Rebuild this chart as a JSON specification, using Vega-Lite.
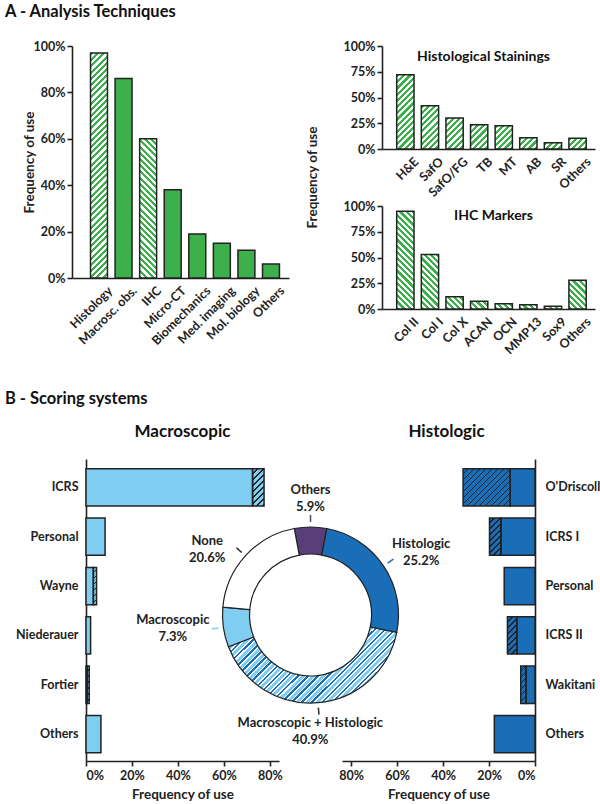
{
  "$schema": "https://vega.github.io/schema/vega-lite/v6.json",
  "padding": {"left": 5, "top": 3, "right": 5, "bottom": 5},
  "background": "white",
  "params": [
    {"name": "greenStops", "value": [
      {"offset": 0, "color": "#3cb04a"}, {"offset": 0.0125, "color": "#3cb04a"}, {"offset": 0.0125, "color": "#ffffff"}, {"offset": 0.025, "color": "#ffffff"},
      {"offset": 0.025, "color": "#3cb04a"}, {"offset": 0.0375, "color": "#3cb04a"}, {"offset": 0.0375, "color": "#ffffff"}, {"offset": 0.05, "color": "#ffffff"},
      {"offset": 0.05, "color": "#3cb04a"}, {"offset": 0.0625, "color": "#3cb04a"}, {"offset": 0.0625, "color": "#ffffff"}, {"offset": 0.075, "color": "#ffffff"},
      {"offset": 0.075, "color": "#3cb04a"}, {"offset": 0.0875, "color": "#3cb04a"}, {"offset": 0.0875, "color": "#ffffff"}, {"offset": 0.1, "color": "#ffffff"},
      {"offset": 0.1, "color": "#3cb04a"}, {"offset": 0.1125, "color": "#3cb04a"}, {"offset": 0.1125, "color": "#ffffff"}, {"offset": 0.125, "color": "#ffffff"},
      {"offset": 0.125, "color": "#3cb04a"}, {"offset": 0.1375, "color": "#3cb04a"}, {"offset": 0.1375, "color": "#ffffff"}, {"offset": 0.15, "color": "#ffffff"},
      {"offset": 0.15, "color": "#3cb04a"}, {"offset": 0.1625, "color": "#3cb04a"}, {"offset": 0.1625, "color": "#ffffff"}, {"offset": 0.175, "color": "#ffffff"},
      {"offset": 0.175, "color": "#3cb04a"}, {"offset": 0.1875, "color": "#3cb04a"}, {"offset": 0.1875, "color": "#ffffff"}, {"offset": 0.2, "color": "#ffffff"},
      {"offset": 0.2, "color": "#3cb04a"}, {"offset": 0.2125, "color": "#3cb04a"}, {"offset": 0.2125, "color": "#ffffff"}, {"offset": 0.225, "color": "#ffffff"},
      {"offset": 0.225, "color": "#3cb04a"}, {"offset": 0.2375, "color": "#3cb04a"}, {"offset": 0.2375, "color": "#ffffff"}, {"offset": 0.25, "color": "#ffffff"},
      {"offset": 0.25, "color": "#3cb04a"}, {"offset": 0.2625, "color": "#3cb04a"}, {"offset": 0.2625, "color": "#ffffff"}, {"offset": 0.275, "color": "#ffffff"},
      {"offset": 0.275, "color": "#3cb04a"}, {"offset": 0.2875, "color": "#3cb04a"}, {"offset": 0.2875, "color": "#ffffff"}, {"offset": 0.3, "color": "#ffffff"},
      {"offset": 0.3, "color": "#3cb04a"}, {"offset": 0.3125, "color": "#3cb04a"}, {"offset": 0.3125, "color": "#ffffff"}, {"offset": 0.325, "color": "#ffffff"},
      {"offset": 0.325, "color": "#3cb04a"}, {"offset": 0.3375, "color": "#3cb04a"}, {"offset": 0.3375, "color": "#ffffff"}, {"offset": 0.35, "color": "#ffffff"},
      {"offset": 0.35, "color": "#3cb04a"}, {"offset": 0.3625, "color": "#3cb04a"}, {"offset": 0.3625, "color": "#ffffff"}, {"offset": 0.375, "color": "#ffffff"},
      {"offset": 0.375, "color": "#3cb04a"}, {"offset": 0.3875, "color": "#3cb04a"}, {"offset": 0.3875, "color": "#ffffff"}, {"offset": 0.4, "color": "#ffffff"},
      {"offset": 0.4, "color": "#3cb04a"}, {"offset": 0.4125, "color": "#3cb04a"}, {"offset": 0.4125, "color": "#ffffff"}, {"offset": 0.425, "color": "#ffffff"},
      {"offset": 0.425, "color": "#3cb04a"}, {"offset": 0.4375, "color": "#3cb04a"}, {"offset": 0.4375, "color": "#ffffff"}, {"offset": 0.45, "color": "#ffffff"},
      {"offset": 0.45, "color": "#3cb04a"}, {"offset": 0.4625, "color": "#3cb04a"}, {"offset": 0.4625, "color": "#ffffff"}, {"offset": 0.475, "color": "#ffffff"},
      {"offset": 0.475, "color": "#3cb04a"}, {"offset": 0.4875, "color": "#3cb04a"}, {"offset": 0.4875, "color": "#ffffff"}, {"offset": 0.5, "color": "#ffffff"},
      {"offset": 0.5, "color": "#3cb04a"}, {"offset": 0.5125, "color": "#3cb04a"}, {"offset": 0.5125, "color": "#ffffff"}, {"offset": 0.525, "color": "#ffffff"},
      {"offset": 0.525, "color": "#3cb04a"}, {"offset": 0.5375, "color": "#3cb04a"}, {"offset": 0.5375, "color": "#ffffff"}, {"offset": 0.55, "color": "#ffffff"},
      {"offset": 0.55, "color": "#3cb04a"}, {"offset": 0.5625, "color": "#3cb04a"}, {"offset": 0.5625, "color": "#ffffff"}, {"offset": 0.575, "color": "#ffffff"},
      {"offset": 0.575, "color": "#3cb04a"}, {"offset": 0.5875, "color": "#3cb04a"}, {"offset": 0.5875, "color": "#ffffff"}, {"offset": 0.6, "color": "#ffffff"},
      {"offset": 0.6, "color": "#3cb04a"}, {"offset": 0.6125, "color": "#3cb04a"}, {"offset": 0.6125, "color": "#ffffff"}, {"offset": 0.625, "color": "#ffffff"},
      {"offset": 0.625, "color": "#3cb04a"}, {"offset": 0.6375, "color": "#3cb04a"}, {"offset": 0.6375, "color": "#ffffff"}, {"offset": 0.65, "color": "#ffffff"},
      {"offset": 0.65, "color": "#3cb04a"}, {"offset": 0.6625, "color": "#3cb04a"}, {"offset": 0.6625, "color": "#ffffff"}, {"offset": 0.675, "color": "#ffffff"},
      {"offset": 0.675, "color": "#3cb04a"}, {"offset": 0.6875, "color": "#3cb04a"}, {"offset": 0.6875, "color": "#ffffff"}, {"offset": 0.7, "color": "#ffffff"},
      {"offset": 0.7, "color": "#3cb04a"}, {"offset": 0.7125, "color": "#3cb04a"}, {"offset": 0.7125, "color": "#ffffff"}, {"offset": 0.725, "color": "#ffffff"},
      {"offset": 0.725, "color": "#3cb04a"}, {"offset": 0.7375, "color": "#3cb04a"}, {"offset": 0.7375, "color": "#ffffff"}, {"offset": 0.75, "color": "#ffffff"},
      {"offset": 0.75, "color": "#3cb04a"}, {"offset": 0.7625, "color": "#3cb04a"}, {"offset": 0.7625, "color": "#ffffff"}, {"offset": 0.775, "color": "#ffffff"},
      {"offset": 0.775, "color": "#3cb04a"}, {"offset": 0.7875, "color": "#3cb04a"}, {"offset": 0.7875, "color": "#ffffff"}, {"offset": 0.8, "color": "#ffffff"},
      {"offset": 0.8, "color": "#3cb04a"}, {"offset": 0.8125, "color": "#3cb04a"}, {"offset": 0.8125, "color": "#ffffff"}, {"offset": 0.825, "color": "#ffffff"},
      {"offset": 0.825, "color": "#3cb04a"}, {"offset": 0.8375, "color": "#3cb04a"}, {"offset": 0.8375, "color": "#ffffff"}, {"offset": 0.85, "color": "#ffffff"},
      {"offset": 0.85, "color": "#3cb04a"}, {"offset": 0.8625, "color": "#3cb04a"}, {"offset": 0.8625, "color": "#ffffff"}, {"offset": 0.875, "color": "#ffffff"},
      {"offset": 0.875, "color": "#3cb04a"}, {"offset": 0.8875, "color": "#3cb04a"}, {"offset": 0.8875, "color": "#ffffff"}, {"offset": 0.9, "color": "#ffffff"},
      {"offset": 0.9, "color": "#3cb04a"}, {"offset": 0.9125, "color": "#3cb04a"}, {"offset": 0.9125, "color": "#ffffff"}, {"offset": 0.925, "color": "#ffffff"},
      {"offset": 0.925, "color": "#3cb04a"}, {"offset": 0.9375, "color": "#3cb04a"}, {"offset": 0.9375, "color": "#ffffff"}, {"offset": 0.95, "color": "#ffffff"},
      {"offset": 0.95, "color": "#3cb04a"}, {"offset": 0.9625, "color": "#3cb04a"}, {"offset": 0.9625, "color": "#ffffff"}, {"offset": 0.975, "color": "#ffffff"},
      {"offset": 0.975, "color": "#3cb04a"}, {"offset": 0.9875, "color": "#3cb04a"}, {"offset": 0.9875, "color": "#ffffff"}, {"offset": 1, "color": "#ffffff"}
    ]},
    {"name": "lineStops", "value": [
      {"offset": 0, "color": "rgba(0,0,0,0)"}, {"offset": 0.045, "color": "rgba(0,0,0,0)"}, {"offset": 0.045, "color": "#222222"}, {"offset": 0.0625, "color": "#222222"},
      {"offset": 0.0625, "color": "rgba(0,0,0,0)"}, {"offset": 0.1075, "color": "rgba(0,0,0,0)"}, {"offset": 0.1075, "color": "#222222"}, {"offset": 0.125, "color": "#222222"},
      {"offset": 0.125, "color": "rgba(0,0,0,0)"}, {"offset": 0.17, "color": "rgba(0,0,0,0)"}, {"offset": 0.17, "color": "#222222"}, {"offset": 0.1875, "color": "#222222"},
      {"offset": 0.1875, "color": "rgba(0,0,0,0)"}, {"offset": 0.2325, "color": "rgba(0,0,0,0)"}, {"offset": 0.2325, "color": "#222222"}, {"offset": 0.25, "color": "#222222"},
      {"offset": 0.25, "color": "rgba(0,0,0,0)"}, {"offset": 0.295, "color": "rgba(0,0,0,0)"}, {"offset": 0.295, "color": "#222222"}, {"offset": 0.3125, "color": "#222222"},
      {"offset": 0.3125, "color": "rgba(0,0,0,0)"}, {"offset": 0.3575, "color": "rgba(0,0,0,0)"}, {"offset": 0.3575, "color": "#222222"}, {"offset": 0.375, "color": "#222222"},
      {"offset": 0.375, "color": "rgba(0,0,0,0)"}, {"offset": 0.42, "color": "rgba(0,0,0,0)"}, {"offset": 0.42, "color": "#222222"}, {"offset": 0.4375, "color": "#222222"},
      {"offset": 0.4375, "color": "rgba(0,0,0,0)"}, {"offset": 0.4825, "color": "rgba(0,0,0,0)"}, {"offset": 0.4825, "color": "#222222"}, {"offset": 0.5, "color": "#222222"},
      {"offset": 0.5, "color": "rgba(0,0,0,0)"}, {"offset": 0.545, "color": "rgba(0,0,0,0)"}, {"offset": 0.545, "color": "#222222"}, {"offset": 0.5625, "color": "#222222"},
      {"offset": 0.5625, "color": "rgba(0,0,0,0)"}, {"offset": 0.6075, "color": "rgba(0,0,0,0)"}, {"offset": 0.6075, "color": "#222222"}, {"offset": 0.625, "color": "#222222"},
      {"offset": 0.625, "color": "rgba(0,0,0,0)"}, {"offset": 0.67, "color": "rgba(0,0,0,0)"}, {"offset": 0.67, "color": "#222222"}, {"offset": 0.6875, "color": "#222222"},
      {"offset": 0.6875, "color": "rgba(0,0,0,0)"}, {"offset": 0.7325, "color": "rgba(0,0,0,0)"}, {"offset": 0.7325, "color": "#222222"}, {"offset": 0.75, "color": "#222222"},
      {"offset": 0.75, "color": "rgba(0,0,0,0)"}, {"offset": 0.795, "color": "rgba(0,0,0,0)"}, {"offset": 0.795, "color": "#222222"}, {"offset": 0.8125, "color": "#222222"},
      {"offset": 0.8125, "color": "rgba(0,0,0,0)"}, {"offset": 0.8575, "color": "rgba(0,0,0,0)"}, {"offset": 0.8575, "color": "#222222"}, {"offset": 0.875, "color": "#222222"},
      {"offset": 0.875, "color": "rgba(0,0,0,0)"}, {"offset": 0.92, "color": "rgba(0,0,0,0)"}, {"offset": 0.92, "color": "#222222"}, {"offset": 0.9375, "color": "#222222"},
      {"offset": 0.9375, "color": "rgba(0,0,0,0)"}, {"offset": 0.9825, "color": "rgba(0,0,0,0)"}, {"offset": 0.9825, "color": "#222222"}, {"offset": 1, "color": "#222222"}
    ]}
  ],
  "config": {
    "font": "Lato",
    "view": {"stroke": null},
    "axis": {
      "labelFont": "Lato", "labelFontWeight": "bold", "labelFontSize": 12.5, "labelColor": "#222",
      "titleFont": "Lato", "titleFontWeight": "bold", "titleFontSize": 13.5, "titleColor": "#222",
      "domainColor": "#222", "domainWidth": 1.6, "tickColor": "#222", "tickWidth": 1.6, "tickSize": 5, "grid": false
    },
    "title": {"font": "Lato", "fontWeight": "bold", "color": "#111"},
    "text": {"font": "Lato", "fontWeight": "bold", "fontSize": 13, "color": "#222"}
  },
  "spacing": 33,
  "vconcat": [
    {
      "title": {"text": "A - Analysis Techniques", "anchor": "start", "frame": "group", "dx": -67, "fontSize": 16.5, "offset": 20},
      "bounds": "flush",
      "spacing": 93,
      "hconcat": [
        {
          "width": 217, "height": 232,
          "data": {"values": [
            {"technique": "Histology", "frequency": 0.97},
            {"technique": "Macrosc. obs.", "frequency": 0.86},
            {"technique": "IHC", "frequency": 0.60},
            {"technique": "Micro-CT", "frequency": 0.38},
            {"technique": "Biomechanics", "frequency": 0.19},
            {"technique": "Med. imaging", "frequency": 0.15},
            {"technique": "Mol. biology", "frequency": 0.12},
            {"technique": "Others", "frequency": 0.06}
          ]},
          "mark": {"type": "bar", "stroke": "#222", "strokeWidth": 1.5},
          "encoding": {
            "x": {"field": "technique", "type": "nominal", "sort": null,
                  "scale": {"paddingInner": 0.31, "paddingOuter": 0.571, "align": 0.66},
                  "axis": {"title": null, "ticks": false, "labelAngle": -45, "labelPadding": 6, "labelOffset": 7}},
            "y": {"field": "frequency", "type": "quantitative", "scale": {"domain": [0, 1]},
                  "axis": {"values": [0, 0.2, 0.4, 0.6, 0.8, 1], "format": ".0%", "title": "Frequency of use", "titleX": -36}},
            "fill": {"value": {"expr": "datum.technique === 'Histology' ? {gradient: 'linear', x1: 0, y1: 0, x2: 248*17/(289+pow(datum.frequency*232,2)), y2: 248*datum.frequency*232/(289+pow(datum.frequency*232,2)), stops: greenStops} : (datum.technique === 'IHC' ? {gradient: 'linear', x1: 0, y1: 1, x2: 248*17/(289+pow(datum.frequency*232,2)), y2: 1 - 248*datum.frequency*232/(289+pow(datum.frequency*232,2)), stops: greenStops} : '#3cb04a')"}}
          }
        },
        {
          "bounds": "flush",
          "spacing": 57,
          "vconcat": [
            {
              "width": 213, "height": 103,
              "title": {"text": "Histological Stainings", "fontSize": 14, "offset": -24, "dx": -5},
              "data": {"values": [
                {"staining": "H&E", "frequency": 0.72},
                {"staining": "SafO", "frequency": 0.42},
                {"staining": "SafO/FG", "frequency": 0.30},
                {"staining": "TB", "frequency": 0.235},
                {"staining": "MT", "frequency": 0.225},
                {"staining": "AB", "frequency": 0.11},
                {"staining": "SR", "frequency": 0.06},
                {"staining": "Others", "frequency": 0.105}
              ]},
              "mark": {"type": "bar", "stroke": "#222", "strokeWidth": 1.5},
              "encoding": {
                "x": {"field": "staining", "type": "nominal", "sort": null,
                      "scale": {"paddingInner": 0.297, "paddingOuter": 0.478, "align": 0.626},
                      "axis": {"title": null, "ticks": false, "labelAngle": -45, "labelPadding": 6, "labelOffset": 7}},
                "y": {"field": "frequency", "type": "quantitative", "scale": {"domain": [0, 1]},
                      "axis": {"values": [0, 0.25, 0.5, 0.75, 1], "format": ".0%", "title": "Frequency of use", "titleX": -63, "titleY": 131}},
                "fill": {"value": {"expr": "{gradient: 'linear', x1: 0, y1: 0, x2: 248*17.3/(299.3+pow(datum.frequency*103,2)), y2: 248*datum.frequency*103/(299.3+pow(datum.frequency*103,2)), stops: greenStops}"}}
              }
            },
            {
              "width": 213, "height": 103,
              "title": {"text": "IHC Markers", "fontSize": 14, "offset": -23, "dx": 5},
              "data": {"values": [
                {"marker": "Col II", "frequency": 0.95},
                {"marker": "Col I", "frequency": 0.53},
                {"marker": "Col X", "frequency": 0.12},
                {"marker": "ACAN", "frequency": 0.075},
                {"marker": "OCN", "frequency": 0.05},
                {"marker": "MMP13", "frequency": 0.042},
                {"marker": "Sox9", "frequency": 0.026},
                {"marker": "Others", "frequency": 0.28}
              ]},
              "mark": {"type": "bar", "stroke": "#222", "strokeWidth": 1.5},
              "encoding": {
                "x": {"field": "marker", "type": "nominal", "sort": null,
                      "scale": {"paddingInner": 0.297, "paddingOuter": 0.478, "align": 0.626},
                      "axis": {"title": null, "ticks": false, "labelAngle": -45, "labelPadding": 6, "labelOffset": 7}},
                "y": {"field": "frequency", "type": "quantitative", "scale": {"domain": [0, 1]},
                      "axis": {"values": [0, 0.25, 0.5, 0.75, 1], "format": ".0%", "title": null}},
                "fill": {"value": {"expr": "{gradient: 'linear', x1: 0, y1: 1, x2: 248*17.3/(299.3+pow(datum.frequency*103,2)), y2: 1 - 248*datum.frequency*103/(299.3+pow(datum.frequency*103,2)), stops: greenStops}"}}
              }
            }
          ]
        }
      ]
    },
    {
      "title": {"text": "B - Scoring systems", "anchor": "start", "frame": "group", "dx": -67, "fontSize": 16.5, "offset": 16},
      "bounds": "flush",
      "spacing": 10,
      "hconcat": [
        {
          "width": 4, "height": 10,
          "data": {"values": [{"a": 1}]},
          "mark": {"type": "point", "opacity": 0},
          "encoding": {}
        },
        {
          "width": 193, "height": 302,
          "title": {"text": "Macroscopic", "fontSize": 17, "offset": 18},
          "data": {"values": [
            {"system": "ICRS", "version": "Original", "frequency": 0.725},
            {"system": "ICRS", "version": "Modified", "frequency": 0.05},
            {"system": "Personal", "version": "Original", "frequency": 0.083},
            {"system": "Wayne", "version": "Original", "frequency": 0.032},
            {"system": "Wayne", "version": "Modified", "frequency": 0.014},
            {"system": "Niederauer", "version": "Original", "frequency": 0.02},
            {"system": "Fortier", "version": "Original", "frequency": 0.005},
            {"system": "Fortier", "version": "Modified", "frequency": 0.009},
            {"system": "Others", "version": "Original", "frequency": 0.065}
          ]},
          "encoding": {
            "y": {"field": "system", "type": "nominal", "sort": null,
                  "scale": {"paddingInner": 0.244, "paddingOuter": 0.182, "align": 0.54},
                  "axis": {"title": null, "ticks": false, "labelPadding": 8}},
            "x": {"field": "frequency", "type": "quantitative", "stack": "zero", "scale": {"domain": [0, 0.84]},
                  "axis": {"values": [0, 0.2, 0.4, 0.6, 0.8], "format": ".0%", "title": "Frequency of use", "labelPadding": 3, "titlePadding": 6}},
            "order": {"field": "version", "sort": "descending"}
          },
          "layer": [
            {"mark": {"type": "bar", "fill": "#7fcef2", "strokeWidth": 0}},
            {"mark": {"type": "bar", "stroke": "#222", "strokeWidth": 1.5},
             "encoding": {"fill": {"value": {"expr": "datum.version === 'Modified' ? {gradient: 'linear', x1: 0, y1: 0, x2: 96*datum.frequency*229.76/(pow(datum.frequency*229.76,2)+1391.3), y2: 96*37.3/(pow(datum.frequency*229.76,2)+1391.3), stops: lineStops} : 'transparent'"}}}}
          ]
        },
        {
          "width": 43, "height": 312,
          "data": {"values": [
            {"category": "Others", "share": 0.059, "rank": 1},
            {"category": "Histologic", "share": 0.252, "rank": 2},
            {"category": "Macroscopic + Histologic", "share": 0.409, "rank": 3},
            {"category": "Macroscopic", "share": 0.073, "rank": 4},
            {"category": "None", "share": 0.206, "rank": 5}
          ]},
          "encoding": {
            "theta": {"field": "share", "type": "quantitative", "stack": true, "scale": {"range": [-0.1854, 6.0978]}},
            "order": {"field": "rank", "type": "quantitative"}
          },
          "layer": [
            {
              "mark": {"type": "arc", "radius": 88, "radius2": 61, "stroke": "#222", "strokeWidth": 1.2},
              "encoding": {
                "fill": {
                  "condition": {"test": "datum.category === 'Macroscopic + Histologic'", "value": {
                    "gradient": "linear", "x1": 0, "y1": 0, "x2": 1, "y2": 0.452,
                    "stops": [
                      {"offset": 0, "color": "#7fcef2"}, {"offset": 0.02, "color": "#7fcef2"}, {"offset": 0.02, "color": "#ffffff"}, {"offset": 0.0275, "color": "#ffffff"}, {"offset": 0.0275, "color": "#1a6eb8"}, {"offset": 0.04, "color": "#1a6eb8"}, {"offset": 0.04, "color": "#ffffff"}, {"offset": 0.05, "color": "#ffffff"},
                      {"offset": 0.05, "color": "#7fcef2"}, {"offset": 0.07, "color": "#7fcef2"}, {"offset": 0.07, "color": "#ffffff"}, {"offset": 0.0775, "color": "#ffffff"}, {"offset": 0.0775, "color": "#1a6eb8"}, {"offset": 0.09, "color": "#1a6eb8"}, {"offset": 0.09, "color": "#ffffff"}, {"offset": 0.1, "color": "#ffffff"},
                      {"offset": 0.1, "color": "#7fcef2"}, {"offset": 0.12, "color": "#7fcef2"}, {"offset": 0.12, "color": "#ffffff"}, {"offset": 0.1275, "color": "#ffffff"}, {"offset": 0.1275, "color": "#1a6eb8"}, {"offset": 0.14, "color": "#1a6eb8"}, {"offset": 0.14, "color": "#ffffff"}, {"offset": 0.15, "color": "#ffffff"},
                      {"offset": 0.15, "color": "#7fcef2"}, {"offset": 0.17, "color": "#7fcef2"}, {"offset": 0.17, "color": "#ffffff"}, {"offset": 0.1775, "color": "#ffffff"}, {"offset": 0.1775, "color": "#1a6eb8"}, {"offset": 0.19, "color": "#1a6eb8"}, {"offset": 0.19, "color": "#ffffff"}, {"offset": 0.2, "color": "#ffffff"},
                      {"offset": 0.2, "color": "#7fcef2"}, {"offset": 0.22, "color": "#7fcef2"}, {"offset": 0.22, "color": "#ffffff"}, {"offset": 0.2275, "color": "#ffffff"}, {"offset": 0.2275, "color": "#1a6eb8"}, {"offset": 0.24, "color": "#1a6eb8"}, {"offset": 0.24, "color": "#ffffff"}, {"offset": 0.25, "color": "#ffffff"},
                      {"offset": 0.25, "color": "#7fcef2"}, {"offset": 0.27, "color": "#7fcef2"}, {"offset": 0.27, "color": "#ffffff"}, {"offset": 0.2775, "color": "#ffffff"}, {"offset": 0.2775, "color": "#1a6eb8"}, {"offset": 0.29, "color": "#1a6eb8"}, {"offset": 0.29, "color": "#ffffff"}, {"offset": 0.3, "color": "#ffffff"},
                      {"offset": 0.3, "color": "#7fcef2"}, {"offset": 0.32, "color": "#7fcef2"}, {"offset": 0.32, "color": "#ffffff"}, {"offset": 0.3275, "color": "#ffffff"}, {"offset": 0.3275, "color": "#1a6eb8"}, {"offset": 0.34, "color": "#1a6eb8"}, {"offset": 0.34, "color": "#ffffff"}, {"offset": 0.35, "color": "#ffffff"},
                      {"offset": 0.35, "color": "#7fcef2"}, {"offset": 0.37, "color": "#7fcef2"}, {"offset": 0.37, "color": "#ffffff"}, {"offset": 0.3775, "color": "#ffffff"}, {"offset": 0.3775, "color": "#1a6eb8"}, {"offset": 0.39, "color": "#1a6eb8"}, {"offset": 0.39, "color": "#ffffff"}, {"offset": 0.4, "color": "#ffffff"},
                      {"offset": 0.4, "color": "#7fcef2"}, {"offset": 0.42, "color": "#7fcef2"}, {"offset": 0.42, "color": "#ffffff"}, {"offset": 0.4275, "color": "#ffffff"}, {"offset": 0.4275, "color": "#1a6eb8"}, {"offset": 0.44, "color": "#1a6eb8"}, {"offset": 0.44, "color": "#ffffff"}, {"offset": 0.45, "color": "#ffffff"},
                      {"offset": 0.45, "color": "#7fcef2"}, {"offset": 0.47, "color": "#7fcef2"}, {"offset": 0.47, "color": "#ffffff"}, {"offset": 0.4775, "color": "#ffffff"}, {"offset": 0.4775, "color": "#1a6eb8"}, {"offset": 0.49, "color": "#1a6eb8"}, {"offset": 0.49, "color": "#ffffff"}, {"offset": 0.5, "color": "#ffffff"},
                      {"offset": 0.5, "color": "#7fcef2"}, {"offset": 0.52, "color": "#7fcef2"}, {"offset": 0.52, "color": "#ffffff"}, {"offset": 0.5275, "color": "#ffffff"}, {"offset": 0.5275, "color": "#1a6eb8"}, {"offset": 0.54, "color": "#1a6eb8"}, {"offset": 0.54, "color": "#ffffff"}, {"offset": 0.55, "color": "#ffffff"},
                      {"offset": 0.55, "color": "#7fcef2"}, {"offset": 0.57, "color": "#7fcef2"}, {"offset": 0.57, "color": "#ffffff"}, {"offset": 0.5775, "color": "#ffffff"}, {"offset": 0.5775, "color": "#1a6eb8"}, {"offset": 0.59, "color": "#1a6eb8"}, {"offset": 0.59, "color": "#ffffff"}, {"offset": 0.6, "color": "#ffffff"},
                      {"offset": 0.6, "color": "#7fcef2"}, {"offset": 0.62, "color": "#7fcef2"}, {"offset": 0.62, "color": "#ffffff"}, {"offset": 0.6275, "color": "#ffffff"}, {"offset": 0.6275, "color": "#1a6eb8"}, {"offset": 0.64, "color": "#1a6eb8"}, {"offset": 0.64, "color": "#ffffff"}, {"offset": 0.65, "color": "#ffffff"},
                      {"offset": 0.65, "color": "#7fcef2"}, {"offset": 0.67, "color": "#7fcef2"}, {"offset": 0.67, "color": "#ffffff"}, {"offset": 0.6775, "color": "#ffffff"}, {"offset": 0.6775, "color": "#1a6eb8"}, {"offset": 0.69, "color": "#1a6eb8"}, {"offset": 0.69, "color": "#ffffff"}, {"offset": 0.7, "color": "#ffffff"},
                      {"offset": 0.7, "color": "#7fcef2"}, {"offset": 0.72, "color": "#7fcef2"}, {"offset": 0.72, "color": "#ffffff"}, {"offset": 0.7275, "color": "#ffffff"}, {"offset": 0.7275, "color": "#1a6eb8"}, {"offset": 0.74, "color": "#1a6eb8"}, {"offset": 0.74, "color": "#ffffff"}, {"offset": 0.75, "color": "#ffffff"},
                      {"offset": 0.75, "color": "#7fcef2"}, {"offset": 0.77, "color": "#7fcef2"}, {"offset": 0.77, "color": "#ffffff"}, {"offset": 0.7775, "color": "#ffffff"}, {"offset": 0.7775, "color": "#1a6eb8"}, {"offset": 0.79, "color": "#1a6eb8"}, {"offset": 0.79, "color": "#ffffff"}, {"offset": 0.8, "color": "#ffffff"},
                      {"offset": 0.8, "color": "#7fcef2"}, {"offset": 0.82, "color": "#7fcef2"}, {"offset": 0.82, "color": "#ffffff"}, {"offset": 0.8275, "color": "#ffffff"}, {"offset": 0.8275, "color": "#1a6eb8"}, {"offset": 0.84, "color": "#1a6eb8"}, {"offset": 0.84, "color": "#ffffff"}, {"offset": 0.85, "color": "#ffffff"},
                      {"offset": 0.85, "color": "#7fcef2"}, {"offset": 0.87, "color": "#7fcef2"}, {"offset": 0.87, "color": "#ffffff"}, {"offset": 0.8775, "color": "#ffffff"}, {"offset": 0.8775, "color": "#1a6eb8"}, {"offset": 0.89, "color": "#1a6eb8"}, {"offset": 0.89, "color": "#ffffff"}, {"offset": 0.9, "color": "#ffffff"},
                      {"offset": 0.9, "color": "#7fcef2"}, {"offset": 0.92, "color": "#7fcef2"}, {"offset": 0.92, "color": "#ffffff"}, {"offset": 0.9275, "color": "#ffffff"}, {"offset": 0.9275, "color": "#1a6eb8"}, {"offset": 0.94, "color": "#1a6eb8"}, {"offset": 0.94, "color": "#ffffff"}, {"offset": 0.95, "color": "#ffffff"},
                      {"offset": 0.95, "color": "#7fcef2"}, {"offset": 0.97, "color": "#7fcef2"}, {"offset": 0.97, "color": "#ffffff"}, {"offset": 0.9775, "color": "#ffffff"}, {"offset": 0.9775, "color": "#1a6eb8"}, {"offset": 0.99, "color": "#1a6eb8"}, {"offset": 0.99, "color": "#ffffff"}, {"offset": 1, "color": "#ffffff"}
                    ]}},
                  "field": "category", "type": "nominal",
                  "scale": {"domain": ["Others", "Histologic", "Macroscopic + Histologic", "Macroscopic", "None"],
                            "range": ["#5a3e7a", "#1a6eb8", "#9fcbe8", "#7fcef2", "#ffffff"]},
                  "legend": null
                }
              }
            },
            {
              "mark": {"type": "arc", "radius": 100, "radius2": 93, "padAngle": 3, "fillOpacity": 0, "strokeWidth": 1.5},
              "encoding": {
                "stroke": {"field": "category", "type": "nominal",
                           "scale": {"domain": ["Others", "Histologic", "Macroscopic + Histologic", "Macroscopic", "None"],
                                     "range": ["#5a3e7a", "#1a6eb8", "#333333", "#7fcef2", "#222222"]},
                           "legend": null}
              }
            },
            {"mark": {"type": "text", "radius": 117, "dy": -8},
             "encoding": {"text": {"field": "category"}, "opacity": {"condition": {"test": "datum.category === 'Others'", "value": 1}, "value": 0}}},
            {"mark": {"type": "text", "radius": 117, "dy": 9},
             "encoding": {"text": {"field": "share", "type": "quantitative", "format": ".1%"}, "opacity": {"condition": {"test": "datum.category === 'Others'", "value": 1}, "value": 0}}},
            {"mark": {"type": "text", "radius": 125, "dx": 7, "dy": -1},
             "encoding": {"text": {"field": "category"}, "opacity": {"condition": {"test": "datum.category === 'Histologic'", "value": 1}, "value": 0}}},
            {"mark": {"type": "text", "radius": 125, "dx": 7, "dy": 16},
             "encoding": {"text": {"field": "share", "type": "quantitative", "format": ".1%"}, "opacity": {"condition": {"test": "datum.category === 'Histologic'", "value": 1}, "value": 0}}},
            {"mark": {"type": "text", "radius": 116, "dx": -10, "dy": -8},
             "encoding": {"text": {"field": "category"}, "opacity": {"condition": {"test": "datum.category === 'Macroscopic + Histologic'", "value": 1}, "value": 0}}},
            {"mark": {"type": "text", "radius": 116, "dx": -10, "dy": 9},
             "encoding": {"text": {"field": "share", "type": "quantitative", "format": ".1%"}, "opacity": {"condition": {"test": "datum.category === 'Macroscopic + Histologic'", "value": 1}, "value": 0}}},
            {"mark": {"type": "text", "radius": 138, "dx": -1, "dy": -14},
             "encoding": {"text": {"field": "category"}, "opacity": {"condition": {"test": "datum.category === 'Macroscopic'", "value": 1}, "value": 0}}},
            {"mark": {"type": "text", "radius": 138, "dx": -1, "dy": 3},
             "encoding": {"text": {"field": "share", "type": "quantitative", "format": ".1%"}, "opacity": {"condition": {"test": "datum.category === 'Macroscopic'", "value": 1}, "value": 0}}},
            {"mark": {"type": "text", "radius": 118, "dx": -16, "dy": 5},
             "encoding": {"text": {"field": "category"}, "opacity": {"condition": {"test": "datum.category === 'None'", "value": 1}, "value": 0}}},
            {"mark": {"type": "text", "radius": 118, "dx": -16, "dy": 22},
             "encoding": {"text": {"field": "share", "type": "quantitative", "format": ".1%"}, "opacity": {"condition": {"test": "datum.category === 'None'", "value": 1}, "value": 0}}}
          ]
        },
        {
          "width": 193, "height": 302,
          "title": {"text": "Histologic", "fontSize": 17, "offset": 18, "dx": 8},
          "data": {"values": [
            {"system": "O'Driscoll", "version": "Original", "frequency": 0.108},
            {"system": "O'Driscoll", "version": "Modified", "frequency": 0.205},
            {"system": "ICRS I", "version": "Original", "frequency": 0.148},
            {"system": "ICRS I", "version": "Modified", "frequency": 0.05},
            {"system": "Personal", "version": "Original", "frequency": 0.134},
            {"system": "ICRS II", "version": "Original", "frequency": 0.079},
            {"system": "ICRS II", "version": "Modified", "frequency": 0.041},
            {"system": "Wakitani", "version": "Original", "frequency": 0.039},
            {"system": "Wakitani", "version": "Modified", "frequency": 0.023},
            {"system": "Others", "version": "Original", "frequency": 0.177}
          ]},
          "encoding": {
            "y": {"field": "system", "type": "nominal", "sort": null,
                  "scale": {"paddingInner": 0.244, "paddingOuter": 0.182, "align": 0.54},
                  "axis": {"orient": "right", "title": null, "ticks": false, "labelPadding": 10}},
            "x": {"field": "frequency", "type": "quantitative", "stack": "zero", "scale": {"domain": [0, 0.84], "reverse": true},
                  "axis": {"values": [0, 0.2, 0.4, 0.6, 0.8], "format": ".0%", "title": "Frequency of use", "labelPadding": 3, "titlePadding": 6}},
            "order": {"field": "version", "sort": "descending"}
          },
          "layer": [
            {"mark": {"type": "bar", "fill": "#1a6eb8", "strokeWidth": 0}},
            {"mark": {"type": "bar", "stroke": "#222", "strokeWidth": 1.5},
             "encoding": {"fill": {"value": {"expr": "datum.version === 'Modified' ? {gradient: 'linear', x1: 0, y1: 0, x2: 96*datum.frequency*229.76/(pow(datum.frequency*229.76,2)+1391.3), y2: 96*37.3/(pow(datum.frequency*229.76,2)+1391.3), stops: lineStops} : 'transparent'"}}}}
          ]
        }
      ]
    }
  ]
}
